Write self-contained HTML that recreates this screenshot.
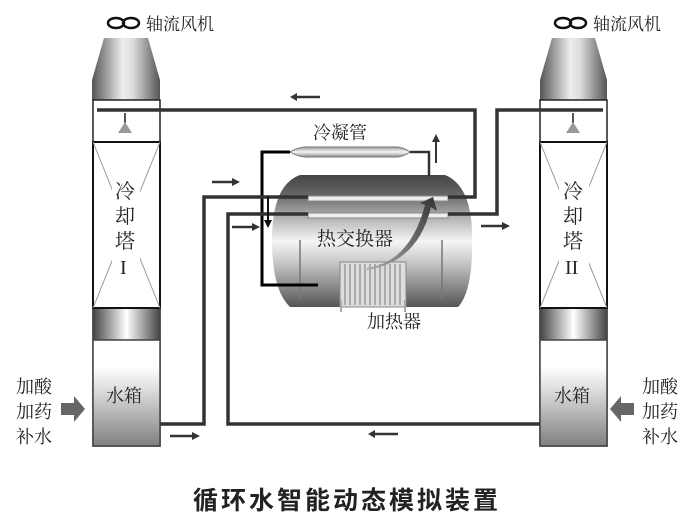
<!DOCTYPE html>
<html><head><meta charset="utf-8"><style>
html,body{margin:0;padding:0;background:#fff;}
svg{display:block;}
text{font-family:"Liberation Serif","Noto Serif CJK SC",serif;fill:#222;}
</style></head><body>
<svg width="695" height="526" viewBox="0 0 695 526" xmlns="http://www.w3.org/2000/svg">
<defs>
<linearGradient id="cone" x1="0" x2="1" y1="0" y2="0">
<stop offset="0" stop-color="#555"/><stop offset="0.45" stop-color="#eee"/><stop offset="0.6" stop-color="#ddd"/><stop offset="1" stop-color="#555"/></linearGradient>
<linearGradient id="band" x1="0" x2="1"><stop offset="0" stop-color="#444"/><stop offset="0.5" stop-color="#fff"/><stop offset="1" stop-color="#444"/></linearGradient>
<linearGradient id="water" x1="0" x2="0" y1="0" y2="1"><stop offset="0" stop-color="#fff"/><stop offset="0.25" stop-color="#fff"/><stop offset="0.45" stop-color="#e0e0e0"/><stop offset="1" stop-color="#808080"/></linearGradient>
<linearGradient id="hx" x1="0" x2="0" y1="0" y2="1"><stop offset="0" stop-color="#444"/><stop offset="0.15" stop-color="#666"/><stop offset="0.3" stop-color="#aaa"/><stop offset="0.5" stop-color="#f5f5f5"/><stop offset="0.65" stop-color="#ccc"/><stop offset="1" stop-color="#555"/></linearGradient>
<linearGradient id="cond" x1="0" x2="0" y1="0" y2="1"><stop offset="0" stop-color="#999"/><stop offset="0.5" stop-color="#f5f5f5"/><stop offset="1" stop-color="#888"/></linearGradient>
<linearGradient id="arc" x1="0" x2="1" y1="1" y2="0"><stop offset="0" stop-color="#aaa"/><stop offset="1" stop-color="#333"/></linearGradient>
</defs>

<!-- TOWER I -->
<g>
<ellipse cx="116" cy="23" rx="8" ry="5" fill="none" stroke="#111" stroke-width="2.5"/>
<ellipse cx="131" cy="23" rx="8" ry="5" fill="none" stroke="#111" stroke-width="2.5"/>
<text x="146" y="30" font-size="17">轴流风机</text>
<path d="M104 38 L148 38 L160 80 L160 100 L92 100 L92 80 Z" fill="url(#cone)"/>
<rect x="93" y="100" width="67" height="346" fill="none" stroke="#222" stroke-width="1.5"/>
<rect x="93" y="142" width="67" height="166" fill="#fff" stroke="#111" stroke-width="2"/>
<path d="M93 142 L160 308 M160 142 L93 308" stroke="#999" stroke-width="1"/>
<rect x="93" y="309" width="67" height="31" fill="url(#band)"/>
<rect x="93" y="340" width="67" height="106" fill="url(#water)" stroke="#444" stroke-width="1.5"/>
<line x1="125" y1="113" x2="125" y2="123" stroke="#555" stroke-width="2"/>
<path d="M118 133 L125 122 L132 133 Z" fill="#999"/>
<rect x="112" y="175" width="28" height="112" fill="#fff"/>
<text x="115" y="198" font-size="20">冷</text>
<text x="115" y="223" font-size="20">却</text>
<text x="115" y="248" font-size="20">塔</text>
<text x="120" y="274" font-size="20">I</text>
<text x="106" y="402" font-size="18">水箱</text>
</g>

<!-- TOWER II -->
<g>
<ellipse cx="563" cy="23" rx="8" ry="5" fill="none" stroke="#111" stroke-width="2.5"/>
<ellipse cx="578" cy="23" rx="8" ry="5" fill="none" stroke="#111" stroke-width="2.5"/>
<text x="593" y="30" font-size="17">轴流风机</text>
<path d="M552 38 L595 38 L607 80 L607 100 L540 100 L540 80 Z" fill="url(#cone)"/>
<rect x="540" y="100" width="67" height="346" fill="none" stroke="#222" stroke-width="1.5"/>
<rect x="540" y="142" width="67" height="166" fill="#fff" stroke="#111" stroke-width="2"/>
<path d="M540 142 L607 308 M607 142 L540 308" stroke="#999" stroke-width="1"/>
<rect x="540" y="309" width="67" height="31" fill="url(#band)"/>
<rect x="540" y="340" width="67" height="106" fill="url(#water)" stroke="#444" stroke-width="1.5"/>
<line x1="573" y1="113" x2="573" y2="123" stroke="#555" stroke-width="2"/>
<path d="M566 133 L573 122 L580 133 Z" fill="#999"/>
<rect x="559" y="175" width="30" height="112" fill="#fff"/>
<text x="563" y="198" font-size="20">冷</text>
<text x="563" y="223" font-size="20">却</text>
<text x="563" y="248" font-size="20">塔</text>
<text x="565" y="274" font-size="20">II</text>
<text x="554" y="402" font-size="18">水箱</text>
</g>

<!-- Heat exchanger -->
<path d="M300 175 L445 175 Q470 185 472 230 Q474 290 458 307 L290 307 Q272 290 272 240 Q272 185 300 175 Z" fill="url(#hx)"/>
<rect x="308" y="196" width="140" height="5" fill="#eee" stroke="#888" stroke-width="1"/>
<rect x="308" y="213" width="140" height="5" fill="#eee" stroke="#888" stroke-width="1"/>
<line x1="300" y1="240" x2="300" y2="300" stroke="#777" stroke-width="1.5"/>
<line x1="442" y1="240" x2="442" y2="300" stroke="#777" stroke-width="1.5"/>
<rect x="340" y="262" width="66" height="45" fill="#ddd" stroke="#888"/>
<g stroke="#777" stroke-width="1">
<line x1="345" y1="264" x2="345" y2="305"/><line x1="350" y1="264" x2="350" y2="305"/><line x1="355" y1="264" x2="355" y2="305"/><line x1="360" y1="264" x2="360" y2="305"/><line x1="365" y1="264" x2="365" y2="305"/><line x1="370" y1="264" x2="370" y2="305"/><line x1="375" y1="264" x2="375" y2="305"/><line x1="380" y1="264" x2="380" y2="305"/><line x1="385" y1="264" x2="385" y2="305"/><line x1="390" y1="264" x2="390" y2="305"/><line x1="395" y1="264" x2="395" y2="305"/><line x1="400" y1="264" x2="400" y2="305"/>
</g>
<line x1="341" y1="300" x2="341" y2="312" stroke="#aaa" stroke-width="2"/>
<line x1="405" y1="300" x2="405" y2="312" stroke="#aaa" stroke-width="2"/>
<path d="M367 268 Q410 262 425 205 L420 203 L433 197 L437 211 L431 207 Q418 262 367 270 Z" fill="url(#arc)"/>
<text x="317" y="245" font-size="19">热交换器</text>
<text x="367" y="328" font-size="18">加热器</text>

<!-- Condenser -->
<path d="M290 152 Q300 146 310 147 L392 147 Q402 146 410 152 Q402 158 392 157 L310 157 Q300 158 290 152 Z" fill="url(#cond)" stroke="#777" stroke-width="1"/>
<text x="313" y="139" font-size="18">冷凝管</text>
<polyline points="290,152 262,152 262,285 318,285" fill="none" stroke="#000" stroke-width="3"/>
<polyline points="410,152 429,152 429,176" fill="none" stroke="#333" stroke-width="2.5"/>
<line x1="436" y1="163" x2="436" y2="140" stroke="#333" stroke-width="2"/>
<path d="M432 142 L436 134 L440 142 Z" fill="#333"/>

<!-- pipes -->
<g fill="none" stroke="#333" stroke-width="3.5">
<polyline points="97,110 475,110 475,197 448,197"/>
<polyline points="603,110 497,110 497,214 448,214"/>
<polyline points="160,424 204,424 204,197 308,197"/>
<polyline points="540,424 228,424 228,214 308,214"/>
</g>
<line x1="268" y1="196" x2="268" y2="222" stroke="#111" stroke-width="2"/>
<path d="M264 220 L268 228 L272 220 Z" fill="#111"/>

<!-- small arrows -->
<g stroke="#333" stroke-width="2.5">
<line x1="297" y1="97" x2="320" y2="97"/>
<line x1="212" y1="182" x2="232" y2="182"/>
<line x1="232" y1="227" x2="252" y2="227"/>
<line x1="481" y1="226" x2="502" y2="226"/>
<line x1="170" y1="436" x2="192" y2="436"/>
<line x1="375" y1="434" x2="398" y2="434"/>
</g>
<g fill="#333">
<path d="M297 93 L290 97 L297 101 Z"/>
<path d="M232 178 L240 182 L232 186 Z"/>
<path d="M252 223 L260 227 L252 231 Z"/>
<path d="M502 222 L510 226 L502 230 Z"/>
<path d="M192 432 L200 436 L192 440 Z"/>
<path d="M375 430 L368 434 L375 438 Z"/>
</g>

<!-- side inputs -->
<path d="M61 403 L74 403 L74 396 L85 409 L74 422 L74 415 L61 415 Z" fill="#666"/>
<path d="M634 403 L621 403 L621 396 L610 409 L621 422 L621 415 L634 415 Z" fill="#666"/>
<text x="16" y="393" font-size="18">加酸</text>
<text x="16" y="418" font-size="18">加药</text>
<text x="16" y="443" font-size="18">补水</text>
<text x="642" y="393" font-size="18">加酸</text>
<text x="642" y="418" font-size="18">加药</text>
<text x="642" y="443" font-size="18">补水</text>

<text x="347" y="509" font-size="25" font-weight="bold" text-anchor="middle" style="font-family:'Noto Sans CJK SC',sans-serif;letter-spacing:3px">循环水智能动态模拟装置</text>
</svg>
</body></html>
